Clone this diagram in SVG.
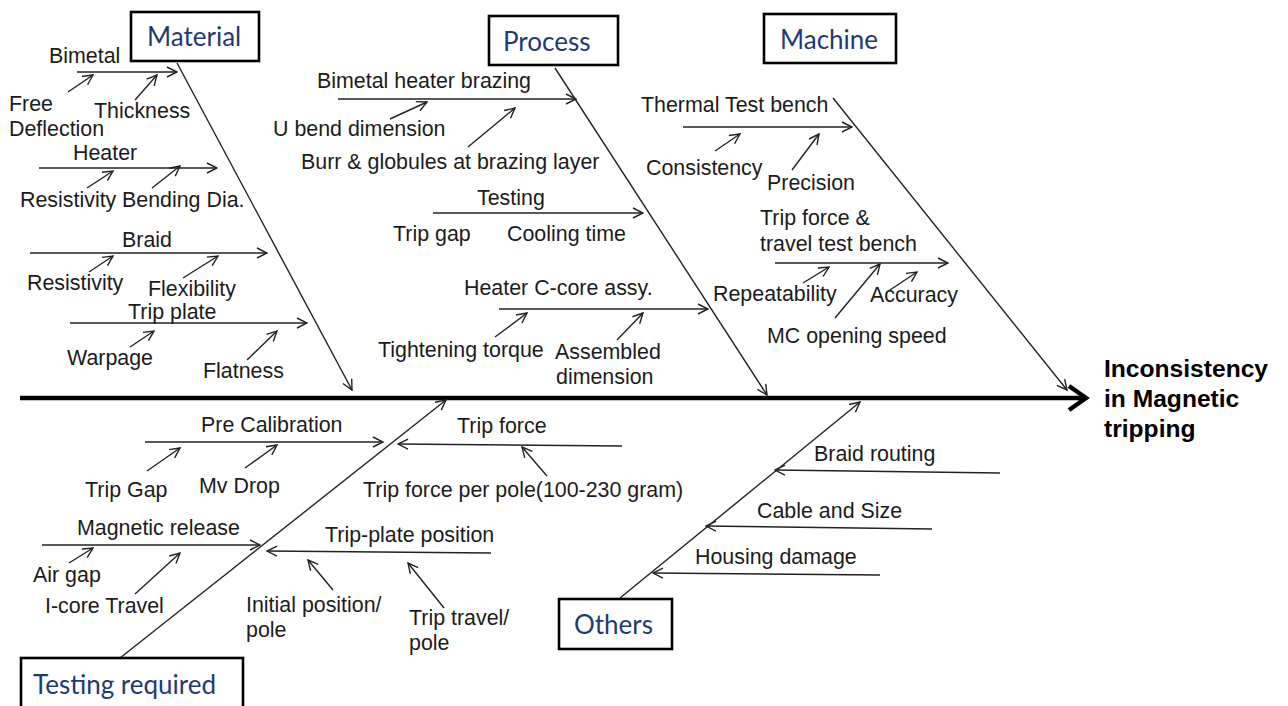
<svg xmlns="http://www.w3.org/2000/svg" width="1288" height="706" viewBox="0 0 1288 706">
<defs>
<style>
.t{font-family:"Liberation Sans",Arial,sans-serif;font-size:21.4px;fill:#1c1c1c}
.box{fill:#fff;stroke:#000;stroke-width:2.6}
.bt{font-family:Lato,"Open Sans",sans-serif;font-size:26px;fill:#1f3a75}
.ln{stroke:#222;stroke-width:1.4;fill:none;marker-end:url(#a)}
.head{font-family:"Liberation Sans",Arial,sans-serif;font-size:24.6px;font-weight:bold;fill:#000}
</style>
<marker id="a" markerUnits="userSpaceOnUse" markerWidth="12" markerHeight="12" viewBox="0 0 12 12" refX="11" refY="6" orient="auto"><path d="M1,1 L11,6 L1,11" fill="none" stroke="#222" stroke-width="1.4"/></marker>
<marker id="big" markerUnits="userSpaceOnUse" markerWidth="24" markerHeight="28" viewBox="0 0 24 28" refX="20" refY="14" orient="auto"><path d="M3,2 L20,14 L3,26" fill="none" stroke="#000" stroke-width="4.5" stroke-linejoin="miter"/></marker>
</defs>
<rect width="1288" height="706" fill="#fff"/>

<g id="connectors">
<line x1="20" y1="398" x2="1086" y2="398" stroke="#000" stroke-width="4.5" marker-end="url(#big)"/>
<line class="ln" x1="177" y1="63" x2="352" y2="390"/>
<line class="ln" x1="555" y1="68" x2="767" y2="395"/>
<line class="ln" x1="833" y1="98" x2="1067" y2="390"/>
<line class="ln" x1="120" y1="658" x2="446" y2="400"/>
<line class="ln" x1="620" y1="598" x2="860" y2="402"/>
</g>

<g id="material">
<rect class="box" x="131" y="12" width="128" height="49"/>
<text class="bt" x="147" y="46">Material</text>
<line class="ln" x1="77" y1="72" x2="177" y2="72"/>
<line class="ln" x1="68" y1="92" x2="93" y2="75"/>
<line class="ln" x1="135" y1="100" x2="157" y2="75"/>
<text class="t" x="49" y="63">Bimetal</text>
<text class="t" x="9" y="111">Free</text>
<text class="t" x="9" y="136">Deflection</text>
<text class="t" x="94" y="118">Thickness</text>
<line class="ln" x1="39" y1="168" x2="217" y2="168"/>
<line class="ln" x1="87" y1="188" x2="113" y2="171"/>
<line class="ln" x1="152" y1="188" x2="180" y2="166"/>
<text class="t" x="73" y="160">Heater</text>
<text class="t" x="20" y="207">Resistivity</text>
<text class="t" x="122" y="207">Bending Dia.</text>
<line class="ln" x1="30" y1="253" x2="267" y2="253"/>
<line class="ln" x1="89" y1="272" x2="113" y2="256"/>
<line class="ln" x1="183" y1="278" x2="218" y2="256"/>
<text class="t" x="122" y="247">Braid</text>
<text class="t" x="27" y="290">Resistivity</text>
<text class="t" x="148" y="296">Flexibility</text>
<line class="ln" x1="70" y1="323" x2="307" y2="323"/>
<line class="ln" x1="130" y1="347" x2="154" y2="331"/>
<line class="ln" x1="247" y1="360" x2="277" y2="331"/>
<text class="t" x="128" y="319">Trip plate</text>
<text class="t" x="67" y="365">Warpage</text>
<text class="t" x="203" y="378">Flatness</text>
</g>

<g id="process">
<rect class="box" x="489" y="16" width="129" height="49"/>
<text class="bt" x="503" y="51">Process</text>
<line class="ln" x1="338" y1="99" x2="576" y2="99"/>
<line class="ln" x1="390" y1="119" x2="427" y2="102"/>
<line class="ln" x1="468" y1="147" x2="515" y2="108"/>
<text class="t" x="317" y="88">Bimetal heater brazing</text>
<text class="t" x="273" y="136">U bend dimension</text>
<text class="t" x="301" y="169">Burr &amp; globules at brazing layer</text>
<line class="ln" x1="433" y1="213" x2="643" y2="213"/>
<text class="t" x="477" y="205">Testing</text>
<text class="t" x="393" y="241">Trip gap</text>
<text class="t" x="507" y="241">Cooling time</text>
<line class="ln" x1="499" y1="309" x2="708" y2="309"/>
<line class="ln" x1="495" y1="337" x2="527" y2="313"/>
<line class="ln" x1="617" y1="340" x2="643" y2="313"/>
<text class="t" x="464" y="295">Heater C-core assy.</text>
<text class="t" x="378" y="357">Tightening torque</text>
<text class="t" x="555" y="359">Assembled</text>
<text class="t" x="556" y="384">dimension</text>
</g>

<g id="machine">
<rect class="box" x="764" y="14" width="132" height="49"/>
<text class="bt" x="780" y="49">Machine</text>
<line class="ln" x1="683" y1="127" x2="852" y2="127"/>
<line class="ln" x1="715" y1="151" x2="740" y2="134"/>
<line class="ln" x1="792" y1="170" x2="819" y2="134"/>
<text class="t" x="641" y="112">Thermal Test bench</text>
<text class="t" x="646" y="175">Consistency</text>
<text class="t" x="767" y="190">Precision</text>
<line class="ln" x1="775" y1="263" x2="948" y2="263"/>
<line class="ln" x1="803" y1="283" x2="829" y2="267"/>
<line class="ln" x1="835" y1="318" x2="880" y2="264"/>
<line class="ln" x1="887" y1="292" x2="917" y2="272"/>
<text class="t" x="760" y="225">Trip force &amp;</text>
<text class="t" x="760" y="251">travel test bench</text>
<text class="t" x="713" y="301">Repeatability</text>
<text class="t" x="870" y="302">Accuracy</text>
<text class="t" x="767" y="343">MC opening speed</text>
</g>

<g id="testing-required">
<rect class="box" x="21" y="658" width="222" height="56"/>
<text class="bt" x="33" y="694">Testing required</text>
<line class="ln" x1="145" y1="442" x2="383" y2="442"/>
<line class="ln" x1="147" y1="471" x2="180" y2="448"/>
<line class="ln" x1="245" y1="468" x2="277" y2="445"/>
<text class="t" x="201" y="432">Pre Calibration</text>
<text class="t" x="85" y="497">Trip Gap</text>
<text class="t" x="199" y="493">Mv Drop</text>
<line class="ln" x1="622" y1="446" x2="398" y2="444"/>
<line class="ln" x1="547" y1="476" x2="522" y2="447"/>
<text class="t" x="457" y="433">Trip force</text>
<text class="t" x="363" y="497">Trip force per pole(100-230 gram)</text>
<line class="ln" x1="42" y1="545" x2="260" y2="545"/>
<line class="ln" x1="69" y1="563" x2="93" y2="548"/>
<line class="ln" x1="135" y1="594" x2="180" y2="553"/>
<text class="t" x="77" y="535">Magnetic release</text>
<text class="t" x="33" y="582">Air gap</text>
<text class="t" x="45" y="613">I-core Travel</text>
<line class="ln" x1="491" y1="553" x2="267" y2="551"/>
<line class="ln" x1="333" y1="590" x2="308" y2="560"/>
<line class="ln" x1="444" y1="608" x2="408" y2="563"/>
<text class="t" x="325" y="542">Trip-plate position</text>
<text class="t" x="246" y="612">Initial position/</text>
<text class="t" x="246" y="637">pole</text>
<text class="t" x="409" y="625">Trip travel/</text>
<text class="t" x="409" y="650">pole</text>
</g>

<g id="others">
<rect class="box" x="559" y="599" width="113" height="50"/>
<text class="bt" x="574" y="634">Others</text>
<line class="ln" x1="1000" y1="473" x2="775" y2="470"/>
<line class="ln" x1="932" y1="529" x2="706" y2="526"/>
<line class="ln" x1="880" y1="575" x2="653" y2="573"/>
<text class="t" x="814" y="461">Braid routing</text>
<text class="t" x="757" y="518">Cable and Size</text>
<text class="t" x="695" y="564">Housing damage</text>
</g>

<g id="effect">
<text class="head" x="1104" y="377">Inconsistency</text>
<text class="head" x="1104" y="407">in Magnetic</text>
<text class="head" x="1104" y="437">tripping</text>
</g>
</svg>
